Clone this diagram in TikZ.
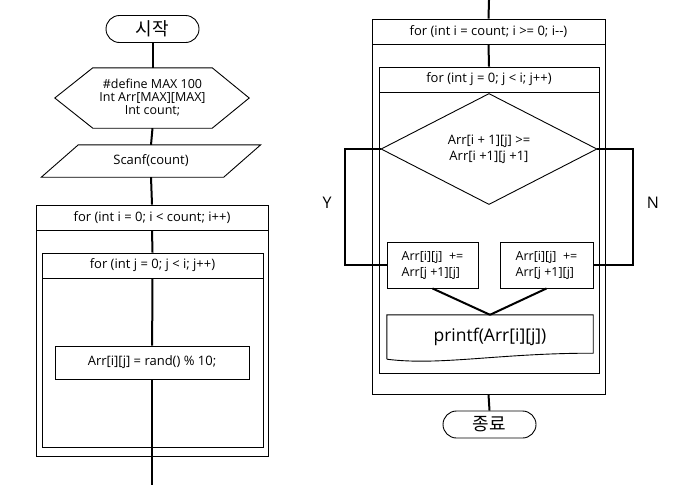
\documentclass[tikz,border=0pt]{standalone}
\usepackage{fontspec}
\setmainfont{Open Sans}
\newfontfamily\kofont{Noto Sans CJK KR}
\usetikzlibrary{shapes.geometric,calc}

\tikzset{
	box/.style={draw, line width=0.9pt, fill=white, inner sep=0pt},
	term/.style={box, rounded corners=13.5pt, minimum width=93pt, minimum height=27pt, font=\kofont\fontsize{18}{20}\selectfont},
	frame/.style={draw, line width=0.9pt, inner sep=0pt},
	head/.style={box, minimum height=25pt, anchor=north},
	flow/.style={line width=2pt},
}

\begin{document}
\begin{tikzpicture}[x=1pt, y=-1pt, font=\fontsize{13}{16}\selectfont]
	\useasboundingbox (0,0) rectangle (695,485);

	% Left chart: fill the array
	\node[term] (start) at (152.5,29) {시작};
	%Declarations
	\node[align=center, inner sep=0pt, minimum width=119pt, minimum height=60pt, font=\fontsize{12.5}{13}\selectfont] (hex) at (152.5,98) {\#define MAX 100\\Int Arr[MAX][MAX]\\Int count;};
	\draw[line width=0.9pt] (hex.north west) -- (hex.north east) -- ($(hex.east)+(37,0)$) -- (hex.south east) -- (hex.south west) -- ($(hex.west)+(-38,0)$) -- cycle;
	%Input
	\node[inner sep=0pt, minimum width=145pt, minimum height=32pt] (scanf) at (151,161) {Scanf(count)};
	\draw[line width=0.9pt] (scanf.north west) -- ($(scanf.north east)+(37,0)$) -- (scanf.south east) -- ($(scanf.south west)+(-37,0)$) -- cycle;
	%Loops
	\node[frame, minimum width=232pt, minimum height=251pt] (loopi) at (152,330.5) {};
	\node[head, minimum width=232pt] (loopihead) at (loopi.north) {for (int i = 0; i < count; i++)};
	\node[frame, minimum width=221pt, minimum height=194pt] (loopj) at (152.5,350) {};
	\node[head, minimum width=221pt] (loopjhead) at (loopj.north) {for (int j = 0; j < i; j++)};
	\node[box, minimum width=194pt, minimum height=33pt] (fill) at (152,362.5) {Arr[i][j] = rand() \% 10;};
	\coordinate (leftend) at (152,485);

	\draw[flow] (start) -- (hex.north);
	\draw[flow] (hex.south) -- (scanf.north);
	\draw[flow] (scanf.south) -- (loopi.north);
	\draw[flow] (loopihead.south) -- (loopj.north);
	\draw[flow] (loopjhead.south) -- (fill);
	\draw[flow] (fill) -- (leftend);

	% Right chart: sort and print
	\coordinate (rightstart) at (489,0);
	\node[frame, minimum width=233pt, minimum height=375pt] (sorti) at (488.5,206.5) {};
	\node[head, minimum width=233pt] (sortihead) at (sorti.north) {for (int i = count; i >= 0; i-{}-)};
	\node[frame, minimum width=220pt, minimum height=306pt] (sortj) at (489,220) {};
	\node[head, minimum width=220pt] (sortjhead) at (sortj.north) {for (int j = 0; j < i; j++)};
	%Compare
	\node[box, diamond, align=center, minimum width=216pt, minimum height=72pt] (cmp) at (489,149) {Arr[i + 1][j] >=\\Arr[i +1][j +1]};
	%Branches
	\node[box, align=left, minimum width=91pt, minimum height=46pt, font=\fontsize{12.5}{16}\selectfont] (swapl) at (432.5,265) {Arr[i][j] \ +=\\Arr[j +1][j]};
	\node[box, align=left, minimum width=93pt, minimum height=46pt, font=\fontsize{12.5}{16}\selectfont] (swapr) at (546.5,265) {Arr[i][j] \ +=\\Arr[j +1][j]};
	\coordinate (yturn) at (345,149);
	\coordinate (nturn) at (633,149);
	\node[font=\fontsize{16}{18}\selectfont] (ylabel) at (327,203) {Y};
	\node[font=\fontsize{16}{18}\selectfont] (nlabel) at (653,203) {N};
	%Output
	\node[inner sep=0pt, minimum width=206pt, minimum height=44pt, font=\fontsize{17.5}{20}\selectfont] (print) at (490,337) {printf(Arr[i][j])};
	\draw[line width=0.9pt] (print.south west) -- (print.north west) -- (print.north east) -- ($(print.south east)+(0,-6)$) .. controls (500,353) and (440,366) .. (print.south west);
	\node[term] (stop) at (489.5,424.5) {종료};

	\draw[flow] (rightstart) -- (sorti.north);
	\draw[flow] (sortihead.south) -- (sortj.north);
	\draw[flow] (sortjhead.south) -- (cmp.north);
	\draw[flow] (cmp.west) -- (yturn) |- (swapl.west);
	\draw[flow] (cmp.east) -- (nturn) |- (swapr.east);
	\draw[flow] (swapl.south) -- (print.north);
	\draw[flow] (swapr.south) -- (print.north);
	\draw[flow] (sorti.south) -- (stop.north);

\end{tikzpicture}
\end{document}
